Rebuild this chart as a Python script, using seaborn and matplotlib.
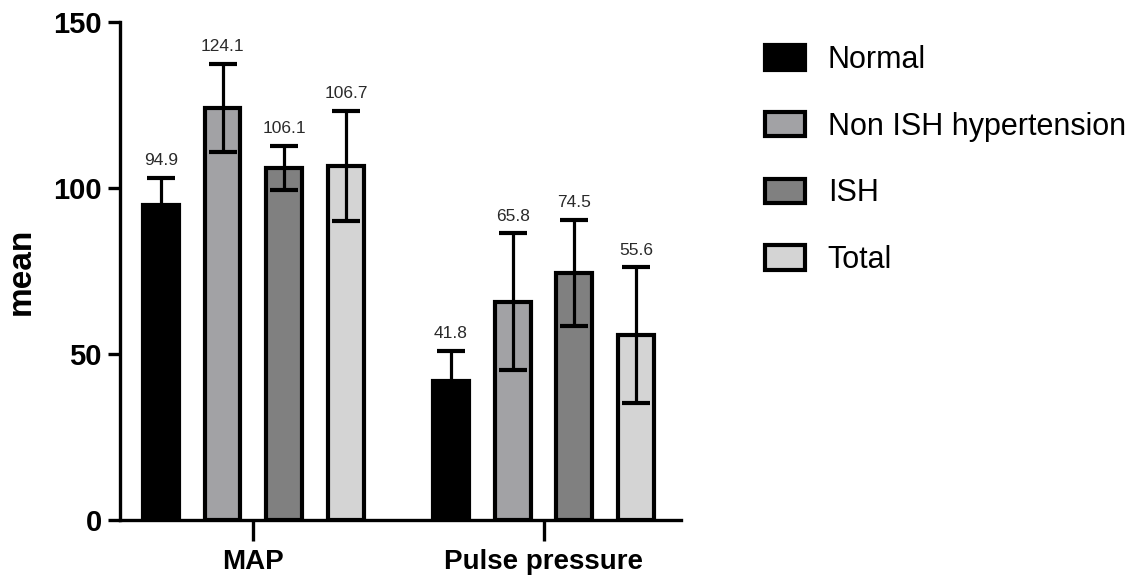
import numpy as np
import pandas as pd
import matplotlib
matplotlib.use("Agg")
import matplotlib.pyplot as plt
import seaborn as sns

# values (mean +/- sd)
measures = ["MAP", "Pulse pressure"]
groups = ["Normal", "Non ISH hypertension", "ISH", "Total"]
map_mean = [94.9, 124.1, 106.1, 106.7]
map_sd = [8.2, 13.3, 6.7, 16.5]
pp_mean = [41.8, 65.8, 74.5, 55.6]
pp_sd = [9.2, 20.5, 16.0, 20.5]
colors = ["#000000", "#a2a1a6", "#808080", "#d4d4d4"]

df = pd.DataFrame({
    "measure": [measures[0]] * 4 + [measures[1]] * 4,
    "group": groups * 2,
    "mean": map_mean + pp_mean,
    "sd": map_sd + pp_sd,
})

sns.set_style("ticks")
plt.rcParams["font.family"] = ["Liberation Sans", "DejaVu Sans"]
plt.rcParams.update({"text.color": "black", "axes.edgecolor": "black",
                     "axes.labelcolor": "black", "xtick.color": "black",
                     "ytick.color": "black"})

fig = plt.figure(figsize=(11.37, 5.88), dpi=100)
ax = fig.add_axes([120 / 1137, 1 - 520 / 588, (681 - 120) / 1137, (520 - 22) / 588])

sns.barplot(data=df, x="measure", y="mean", hue="group", hue_order=groups,
            palette=colors, edgecolor="black", linewidth=3, width=0.85, gap=0.42,
            errorbar=None, ax=ax, zorder=2)

# error bars + value labels on top of each bar
for grp, cont in zip(groups, ax.containers):
    sub = df[df["group"] == grp].set_index("measure")
    for meas, bar in zip(measures, cont):
        xc = bar.get_x() + bar.get_width() / 2
        m = sub.loc[meas, "mean"]
        s = sub.loc[meas, "sd"]
        ax.errorbar(xc, m, yerr=s, color="black", elinewidth=2.3, capsize=10,
                    capthick=3, zorder=3)
        ax.annotate(f"{m:.1f}", (xc, m + s), xytext=(0, 7), textcoords="offset points",
                    ha="center", va="bottom", fontsize=12.5, color="#2a2a2a")

ax.set_ylim(0, 150)
ax.set_yticks([0, 50, 100, 150])
ax.set_xlim(-0.46, 1.474)
ax.set_xlabel("")
ax.set_ylabel("mean", fontsize=24, fontweight="bold", labelpad=12)
sns.despine(ax=ax)
for sp in ["left", "bottom"]:
    ax.spines[sp].set_linewidth(2.4)
ax.tick_params(axis="y", width=2.4, length=9, labelsize=21, pad=4)
ax.tick_params(axis="x", width=2.4, length=15, labelsize=20, pad=6)
for lab in ax.get_xticklabels() + ax.get_yticklabels():
    lab.set_fontweight("bold")

handles, labels = ax.get_legend_handles_labels()
ax.legend(handles, labels, loc="upper left", bbox_to_anchor=(765 / 1137, 1 - 45 / 588),
          bbox_transform=fig.transFigure, frameon=False, fontsize=22,
          borderpad=0, borderaxespad=0, handlelength=1.3, handleheight=0.85,
          handletextpad=0.75, labelspacing=1.2)

fig.savefig("out.png", dpi=100)
